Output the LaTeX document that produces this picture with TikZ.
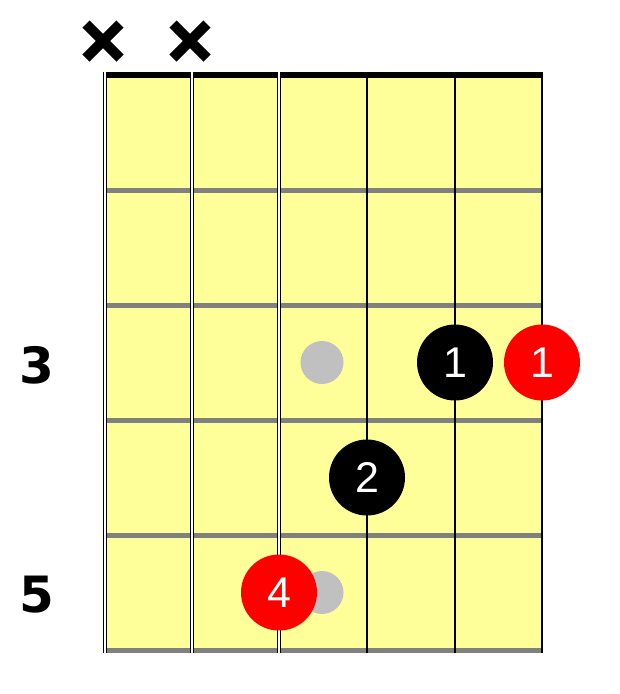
\documentclass[tikz,border=0pt]{standalone}
\usepackage{fontspec}
\usepackage{tikz}
\newfontfamily\fingerfont{Liberation Sans}
\newfontfamily\fretfont{DejaVu Sans}
\definecolor{boardyellow}{HTML}{FFFF99}
\definecolor{wiregray}{HTML}{808080}
\definecolor{ghostgray}{HTML}{C0C0C0}
\definecolor{rootred}{HTML}{FF0000}

\begin{document}
\begin{tikzpicture}[x=1pt, y=-1pt,
	fret/.style={wiregray, line width=5pt},
	thinstring/.style={black, line width=1.3pt},
	thickstring/.style={black, line width=1pt, double=white, double distance=1.5pt},
	finger/.style={circle, fill=black, text=white, minimum size=76pt, inner sep=0pt, font=\fingerfont\fontsize{43}{43}\selectfont},
	rootfinger/.style={finger, fill=rootred},
	ghost/.style={circle, fill=ghostgray, minimum size=43pt, inner sep=0pt},
	fretnum/.style={inner sep=0pt, font=\fretfont\bfseries\fontsize{50}{50}\selectfont},
	mute/.style={line width=10pt}]
	\useasboundingbox (0,0) rectangle (620,694);
	
	\fill[boardyellow] (105,72) rectangle (542,652);
	
	\foreach \y in {190,305,420,535,650}
		\draw[fret] (105,\y) -- (542,\y);
	\fill[black] (105,72) rectangle (542,77.7);
	
	\foreach \x in {105,192,279}
		\draw[thickstring] (\x,72) -- (\x,653);
	\foreach \x in {367,455,542}
		\draw[thinstring] (\x,72) -- (\x,653);
	
	\foreach \x in {103,190} {
		\draw[mute] (\x-17,24) -- (\x+17,58);
		\draw[mute] (\x-17,58) -- (\x+17,24);
	}
	
	\node[fretnum] (f3) at (37,365) {3};
	\node[fretnum] (f5) at (37,595) {5};
	
	\node[ghost] (g1) at (322,362.5) {};
	\node[ghost] (g2) at (322,592.5) {};
	
	\node[finger] (b1) at (455,362.5) {1};
	\node[rootfinger] (r1) at (542,362.5) {1};
	\node[finger] (b2) at (367,477.5) {2};
	\node[rootfinger] (r4) at (279,592.5) {4};
\end{tikzpicture}
\end{document}
